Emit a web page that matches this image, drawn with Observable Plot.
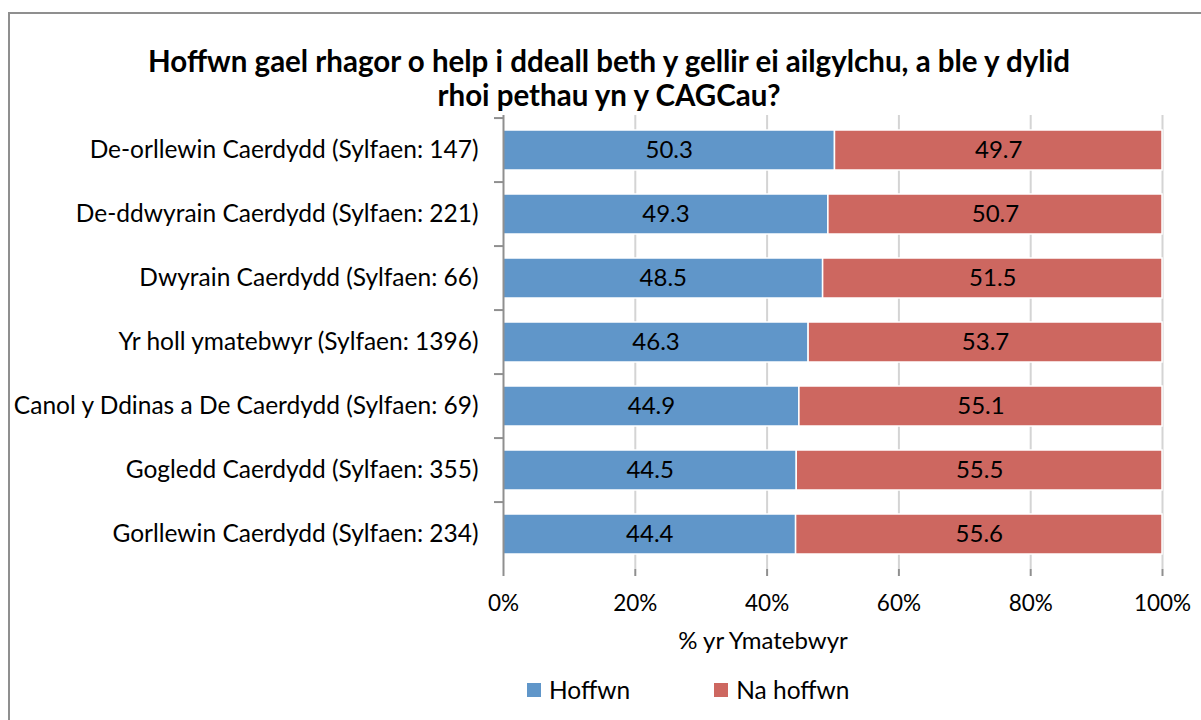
<!DOCTYPE html>
<html>
<head>
<meta charset="utf-8">
<script src="https://cdn.jsdelivr.net/npm/d3@7"></script>
<script src="https://cdn.jsdelivr.net/npm/@observablehq/plot@0.6"></script>
<style>
  html, body { margin: 0; padding: 0; background: #fff; overflow: hidden; }
  #wrap { position: relative; width: 1201px; height: 720px; overflow: hidden; font-family: Lato, "Open Sans", sans-serif; }
  #border { position: absolute; left: 8px; top: 12px; width: 1300px; height: 900px; border: 2px solid #8f8f8f; box-sizing: border-box; }
  #chart { position: absolute; left: 0; top: 0; }
  #title { position: absolute; left: 0; top: 44px; width: 1218px; text-align: center; font-weight: bold; font-size: 29.5px; line-height: 34px; color: #000; }
  #xtitle { position: absolute; left: 563px; width: 400px; top: 625px; text-align: center; font-size: 24px; color: #000; }
  #legend { position: absolute; top: 675px; left: 527px; font-size: 24.5px; color: #000; display: flex; align-items: center; }
  .sw { display: inline-block; width: 14px; height: 14px; margin-right: 8px; }
  .item { display: flex; align-items: center; margin-right: 84px; }
</style>
</head>
<body>
<div id="wrap">
  <div id="border"></div>
  <div id="chart"></div>
  <div id="title">Hoffwn gael rhagor o help i ddeall beth y gellir ei ailgylchu, a ble y dylid<br>rhoi pethau yn y CAGCau?</div>
  <div id="xtitle"></div>
  <div id="legend"></div>
</div>
<script>
const categories = [
  "De-orllewin Caerdydd (Sylfaen: 147)",
  "De-ddwyrain Caerdydd (Sylfaen: 221)",
  "Dwyrain Caerdydd (Sylfaen: 66)",
  "Yr holl ymatebwyr (Sylfaen: 1396)",
  "Canol y Ddinas a De Caerdydd (Sylfaen: 69)",
  "Gogledd Caerdydd (Sylfaen: 355)",
  "Gorllewin Caerdydd (Sylfaen: 234)"
];
const seriesNames = ["Hoffwn", "Na hoffwn"];
const hoffwn = [50.3, 49.3, 48.5, 46.3, 44.9, 44.5, 44.4];
const naHoffwn = [49.7, 50.7, 51.5, 53.7, 55.1, 55.5, 55.6];
const xTicks = [0, 20, 40, 60, 80, 100];
const xLabel = "% yr Ymatebwyr";
const colors = ["#6096c9", "#cd6760"];

const data = [];
categories.forEach((c, i) => {
  data.push({cat: c, series: seriesNames[0], value: hoffwn[i]});
  data.push({cat: c, series: seriesNames[1], value: naHoffwn[i]});
});

const W = 1201, H = 720;
const mTop = 115, mBottom = 151, mLeft = 503, mRight = 39;
const step = (H - mTop - mBottom) / categories.length;

const plot = Plot.plot({
  width: W,
  height: H,
  marginTop: mTop,
  marginBottom: mBottom,
  marginLeft: mLeft,
  marginRight: mRight,
  style: {fontFamily: "Lato, 'Open Sans', sans-serif", background: "transparent", color: "#000"},
  x: {domain: [0, 100]},
  y: {domain: categories, paddingInner: 0.37, paddingOuter: 0.185},
  color: {domain: seriesNames, range: colors},
  marks: [
    Plot.gridX(xTicks.slice(1), {stroke: "#d4d4d4", strokeOpacity: 1, strokeWidth: 2}),
    Plot.barX(data, Plot.stackX({x: "value", y: "cat", fill: "series", stroke: "white", strokeWidth: 1.5})),
    Plot.text(data, Plot.stackX({x: "value", y: "cat", text: d => d.value.toFixed(1), fill: "black", fontSize: 24})),
    Plot.ruleX([0], {stroke: "#8f8f8f", strokeWidth: 2}),
    Plot.ruleY([0], {frameAnchor: "bottom", stroke: "#8f8f8f", strokeWidth: 2}),
    Plot.ruleY(categories, {y: d => d, dy: -step / 2, x1: 0, x2: 0, insetLeft: -9, stroke: "#8f8f8f", strokeWidth: 2}),
    Plot.axisX(xTicks, {anchor: "bottom", tickSize: 7, tickPadding: 19, stroke: "#8f8f8f", strokeWidth: 2, tickFormat: d => d + "%", fontSize: 22.5, label: null}),
    Plot.axisY({tickSize: 0, tickPadding: 25, fontSize: 24.5, label: null})
  ]
});
document.getElementById("chart").appendChild(plot);
document.getElementById("xtitle").textContent = xLabel;

const legend = document.getElementById("legend");
seriesNames.forEach((s, i) => {
  const item = document.createElement("div");
  item.className = "item";
  const sw = document.createElement("span");
  sw.className = "sw";
  sw.style.background = colors[i];
  item.appendChild(sw);
  const t = document.createElement("span");
  t.textContent = s;
  item.appendChild(t);
  legend.appendChild(item);
});
</script>
</body>
</html>
